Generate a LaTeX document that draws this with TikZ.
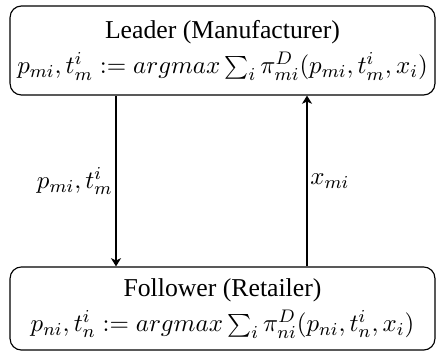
\documentclass[tikz,border=0pt]{standalone}
\usepackage{fontspec}
\setmainfont{Liberation Serif}
\usetikzlibrary{arrows.meta}
\begin{document}
\begin{tikzpicture}[x=0.4392pt,y=-0.4392pt,
  box/.style={draw,line width=0.5pt,rounded corners=5pt,align=center,inner sep=0pt,
    minimum width=186.6pt,font=\fontsize{11.3}{15.5}\selectfont},
  link/.style={line width=0.5pt,-{Stealth[length=3.6pt,width=4.4pt,inset=1pt]}},
  lbl/.style={inner sep=1.2pt,font=\fontsize{11.3}{13}\selectfont}]
\useasboundingbox (0,0) rectangle (436,355);
\node[box,minimum height=39.1pt] (top) at (222.5,50.5)
  {Leader (Manufacturer)\\ $p_{mi},t_m^i := argmax \sum_i \pi_{mi}^D(p_{mi},t_m^i,x_i)$};
\node[box,minimum height=36.5pt] (bot) at (222.5,308.5)
  {Follower (Retailer)\\ $p_{ni},t_n^i := argmax \sum_i \pi_{ni}^D(p_{ni},t_n^i,x_i)$};
\coordinate (L) at (116,0);
\coordinate (R) at (307,0);
\draw[link] (top.south -| L) -- node[lbl,left] (l1) {$p_{mi},t_m^i$} (bot.north -| L);
\draw[link] (bot.north -| R) -- node[lbl,right] (l2) {$x_{mi}$} (top.south -| R);
\end{tikzpicture}
\end{document}
